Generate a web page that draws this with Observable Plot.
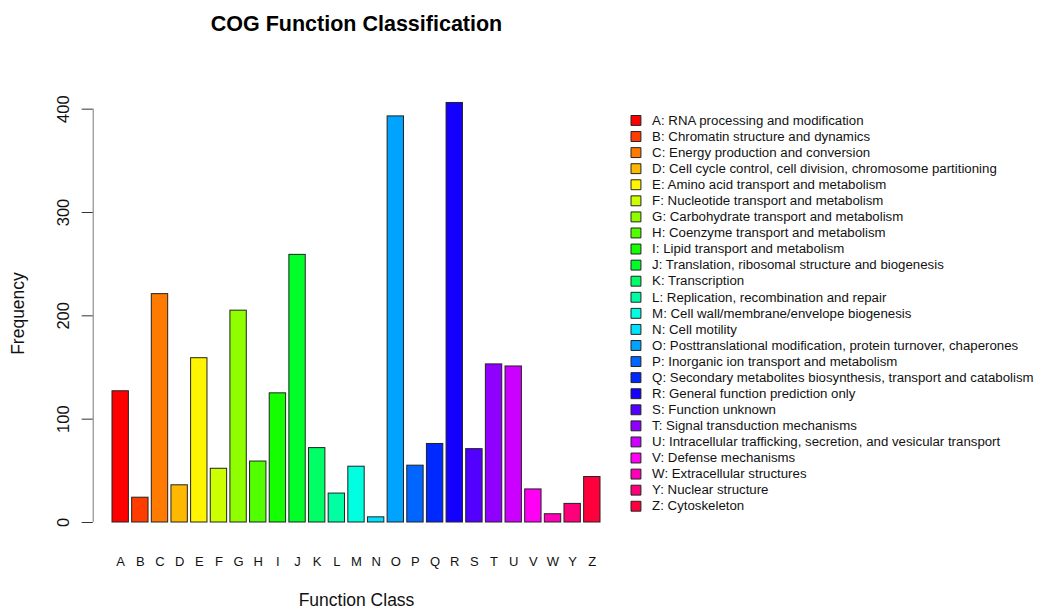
<!DOCTYPE html>
<html>
<head>
<meta charset="utf-8">
<script src="https://cdn.jsdelivr.net/npm/d3@7"></script>
<script src="https://cdn.jsdelivr.net/npm/@observablehq/plot@0.6"></script>
<style>
  html, body { margin: 0; padding: 0; background: #fff; }
  #wrap { position: relative; width: 1039px; height: 609px; overflow: hidden; }
  #wrap > svg { position: absolute; left: 0; top: 0; }
  #legend { position: absolute; left: 620px; top: 100px; }
</style>
</head>
<body>
<div id="wrap"><div id="chart"></div><div id="legend"></div></div>
<script>
// ---- data ----
const codes = ["A","B","C","D","E","F","G","H","I","J","K","L","M","N","O","P","Q","R","S","T","U","V","W","Y","Z"];
const counts = [127, 24, 221, 36, 159, 52, 205, 59, 125, 259, 72, 28, 54, 5, 393, 55, 76, 406, 71, 153, 151, 32, 8, 18, 44];
const descriptions = [
  "RNA processing and modification",
  "Chromatin structure and dynamics",
  "Energy production and conversion",
  "Cell cycle control, cell division, chromosome partitioning",
  "Amino acid transport and metabolism",
  "Nucleotide transport and metabolism",
  "Carbohydrate transport and metabolism",
  "Coenzyme transport and metabolism",
  "Lipid transport and metabolism",
  "Translation, ribosomal structure and biogenesis",
  "Transcription",
  "Replication, recombination and repair",
  "Cell wall/membrane/envelope biogenesis",
  "Cell motility",
  "Posttranslational modification, protein turnover, chaperones",
  "Inorganic ion transport and metabolism",
  "Secondary metabolites biosynthesis, transport and catabolism",
  "General function prediction only",
  "Function unknown",
  "Signal transduction mechanisms",
  "Intracellular trafficking, secretion, and vesicular transport",
  "Defense mechanisms",
  "Extracellular structures",
  "Nuclear structure",
  "Cytoskeleton"
];
const yTicks = [0, 100, 200, 300, 400];
const titleText = "COG Function Classification";
const xLabel = "Function Class";
const yLabel = "Frequency";

// palette (R rainbow(25))
const palette = ["#FF0000","#FF3D00","#FF7A00","#FFB800","#FFF500","#CCFF00","#8FFF00","#52FF00","#14FF00","#00FF29",
  "#00FF66","#00FFA3","#00FFE0","#00E0FF","#00A3FF","#0066FF","#0029FF","#1400FF","#5200FF","#8F00FF",
  "#CC00FF","#FF00F5","#FF00B8","#FF007A","#FF003D"];

const data = codes.map((c, i) => ({code: c, count: counts[i], label: c + ": " + descriptions[i]}));
const font = "'Liberation Sans', Arial, Helvetica, sans-serif";

const chart = Plot.plot({
  width: 1039, height: 609,
  marginLeft: 112, marginRight: 439, marginTop: 88, marginBottom: 87,
  style: {fontFamily: font, background: "white", color: "black", overflow: "visible"},
  x: {domain: codes, paddingInner: 1/6, paddingOuter: 0, round: false, axis: null},
  y: {domain: [0, 420], axis: null},
  color: {domain: codes, range: palette},
  marks: [
    Plot.barY(data, {x: "code", y: "count", fill: "code", stroke: "#222", strokeWidth: 1}),
    Plot.ruleX([codes[0]], {y1: 0, y2: 400, dx: -27.5, stroke: "#777", strokeWidth: 1}),
    Plot.axisY({ticks: yTicks, tickSize: 11, tickPadding: 13.4, tickRotate: -90, dx: -19.3,
      fontSize: 16.5, label: null, stroke: "#333", fill: "#111"}),
    Plot.axisX({tickSize: 0, tickPadding: 34, fontSize: 13, label: null, fill: "#111"}),
    Plot.text([yLabel], {frameAnchor: "left", rotate: -90, dx: -94, dy: 8, fontSize: 17.5,
      lineAnchor: "middle", textAnchor: "middle", fill: "#111"}),
    Plot.text([xLabel], {frameAnchor: "bottom", dy: 77.5, fontSize: 17.5, lineAnchor: "middle",
      textAnchor: "middle", fill: "#111"}),
    Plot.text([titleText], {frameAnchor: "top", dy: -64.5, fontSize: 21.5, fontWeight: "bold",
      lineAnchor: "middle", textAnchor: "middle", fill: "#000"})
  ]
});
document.getElementById("chart").appendChild(chart);

const legend = Plot.plot({
  width: 420, height: 420,
  marginLeft: 0, marginRight: 0, marginTop: 20, marginBottom: 13,
  style: {fontFamily: font, background: "transparent", overflow: "visible"},
  x: {axis: null},
  y: {type: "point", domain: codes, range: [20, 406.7], padding: 0, round: false, axis: null},
  color: {domain: codes, range: palette},
  marks: [
    Plot.dot(data, {y: "code", fill: "code", symbol: "square", r: 5.6, stroke: "#222", strokeWidth: 1,
      frameAnchor: "left", dx: 15.5}),
    Plot.text(data, {y: "code", text: "label", frameAnchor: "left", textAnchor: "start", dx: 31.7,
      fontSize: 13.3, fill: "#111"})
  ]
});
document.getElementById("legend").appendChild(legend);
</script>
</body>
</html>
